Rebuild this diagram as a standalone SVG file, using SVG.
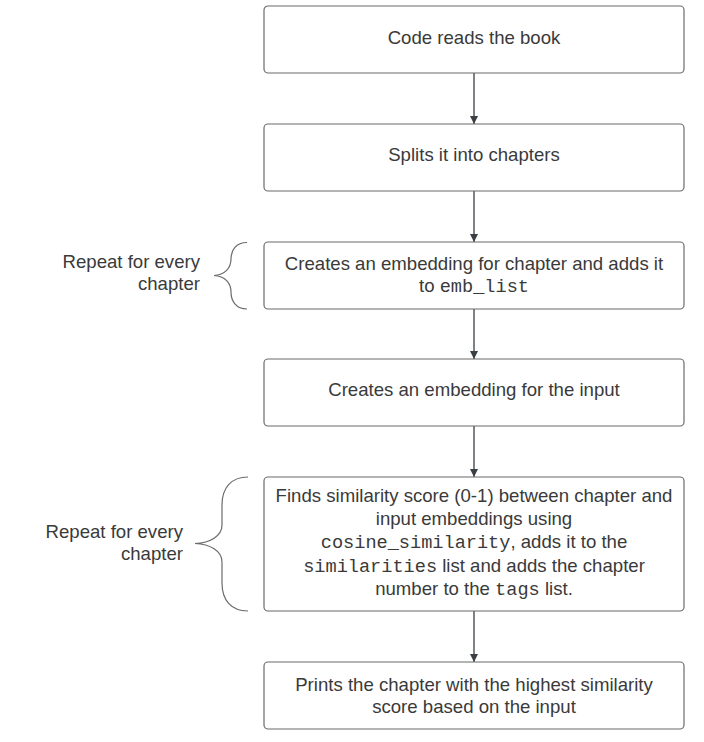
<svg xmlns="http://www.w3.org/2000/svg" width="704" height="742" viewBox="0 0 704 742">
<style>
.box{fill:#ffffff;stroke:#6b6b6b;stroke-width:1.2}
.t{font-family:"Liberation Sans",Arial,sans-serif;font-size:18.6px;fill:#3a3a3a;text-anchor:middle}
.l{font-family:"Liberation Sans",Arial,sans-serif;font-size:18.6px;fill:#3a3a3a;text-anchor:end}
.m{font-family:"Liberation Mono","Courier New",monospace;font-size:18.6px}
.c{stroke:#3a3f45;stroke-width:1.3;fill:none}
.br{stroke:#6b6b6b;stroke-width:1.2;fill:none}
</style>
<defs>
<marker id="ah" viewBox="0 0 10 10" refX="10" refY="5" markerWidth="8" markerHeight="14" markerUnits="userSpaceOnUse" orient="auto">
<path d="M0,0 L10,5 L0,10 z" fill="#3a3f45"/>
</marker>
</defs>
<rect width="704" height="742" fill="#ffffff"/>
<g id="connectors">
<line class="c" x1="474" y1="73" x2="474" y2="124" marker-end="url(#ah)"/>
<line class="c" x1="474" y1="191" x2="474" y2="242" marker-end="url(#ah)"/>
<line class="c" x1="474" y1="309" x2="474" y2="359" marker-end="url(#ah)"/>
<line class="c" x1="474" y1="426" x2="474" y2="477" marker-end="url(#ah)"/>
<line class="c" x1="474" y1="611" x2="474" y2="662" marker-end="url(#ah)"/>
</g>
<g id="n1">
<rect class="box" x="264" y="6" width="420" height="67" rx="4"/>
<text class="t" x="474" y="44">Code reads the book</text>
</g>
<g id="n2">
<rect class="box" x="264" y="124" width="420" height="67" rx="4"/>
<text class="t" x="474" y="161">Splits it into chapters</text>
</g>
<g id="n3">
<rect class="box" x="264" y="242" width="420" height="67" rx="4"/>
<text class="t" x="474" y="270">Creates an embedding for chapter and adds it</text>
<text class="t" x="474" y="292">to <tspan class="m">emb_list</tspan></text>
</g>
<g id="n4">
<rect class="box" x="264" y="359" width="420" height="67" rx="4"/>
<text class="t" x="474" y="396">Creates an embedding for the input</text>
</g>
<g id="n5">
<rect class="box" x="264" y="477" width="420" height="134" rx="4"/>
<text class="t" x="474" y="502">Finds similarity score (0-1) between chapter and</text>
<text class="t" x="474" y="525">input embeddings using</text>
<text class="t" x="474" y="548"><tspan class="m">cosine_similarity</tspan>, adds it to the</text>
<text class="t" x="474" y="572"><tspan class="m">similarities</tspan> list and adds the chapter</text>
<text class="t" x="474" y="595">number to the <tspan class="m">tags</tspan> list.</text>
</g>
<g id="n6">
<rect class="box" x="264" y="662" width="420" height="67" rx="4"/>
<text class="t" x="474" y="691">Prints the chapter with the highest similarity</text>
<text class="t" x="474" y="713">score based on the input</text>
</g>
<g id="brace1">
<path class="br" d="M247,242.5 C236,242.5 231,250 231,259 C231,268 225,275 214,275.5 C225,276 231,283 231,292 C231,301 236,309 247,309"/>
<text class="l" x="200" y="268">Repeat for every</text>
<text class="l" x="200" y="290">chapter</text>
</g>
<g id="brace2">
<path class="br" d="M248,477 C231,477 222,488 222,505 L222,525 C222,536 210,543 195,543.5 C210,544 222,551 222,562 L222,583 C222,600 231,611 248,611"/>
<text class="l" x="183" y="538">Repeat for every</text>
<text class="l" x="183" y="560">chapter</text>
</g>
</svg>
